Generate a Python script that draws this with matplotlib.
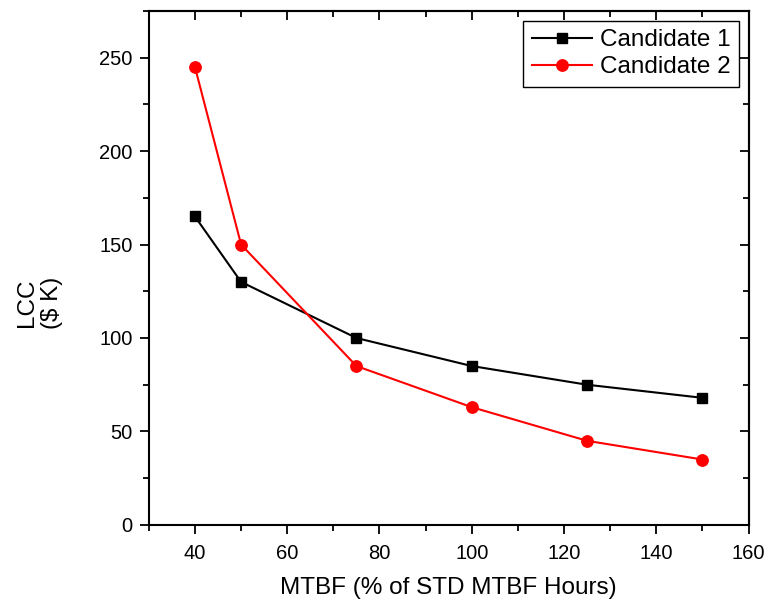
import matplotlib.pyplot as plt
from matplotlib.ticker import MultipleLocator, NullFormatter

# data
mtbf = [40, 50, 75, 100, 125, 150]
lcc_cand1 = [165, 130, 100, 85, 75, 68]
lcc_cand2 = [245, 150, 85, 63, 45, 35]

plt.rcParams['font.family'] = ['Liberation Sans', 'DejaVu Sans']

fig = plt.figure(figsize=(7.67, 6.02), dpi=100)
ax = fig.add_axes([0.194, 0.128, 0.782, 0.854])

ax.plot(mtbf, lcc_cand1, color='black', marker='s', markersize=7.5, linewidth=1.5, label='Candidate 1')
ax.plot(mtbf, lcc_cand2, color='red', marker='o', markersize=8.2, linewidth=1.5, label='Candidate 2')

ax.set_xlim(30, 160)
ax.set_ylim(0, 275)
ax.xaxis.set_major_locator(MultipleLocator(20))
ax.xaxis.set_minor_locator(MultipleLocator(10))
ax.yaxis.set_major_locator(MultipleLocator(50))
ax.yaxis.set_minor_locator(MultipleLocator(25))

ax.tick_params(which='both', direction='out', labelsize=14.5, width=1.3)
ax.tick_params(which='major', length=6.5)
ax.tick_params(which='minor', length=4)
ax.tick_params(axis='x', which='major', pad=7)
ax.tick_params(axis='y', which='major', pad=5)
for s in ax.spines.values():
    s.set_linewidth(1.5)

# top and right spines carry inward ticks without labels
top = ax.secondary_xaxis('top')
right = ax.secondary_yaxis('right')
for sec, maj, mnr in [(top, 20, 10), (right, 50, 25)]:
    axis = sec.xaxis if sec is top else sec.yaxis
    axis.set_major_locator(MultipleLocator(maj))
    axis.set_minor_locator(MultipleLocator(mnr))
    axis.set_major_formatter(NullFormatter())
    sec.tick_params(which='both', direction='in', width=1.3)
    sec.tick_params(which='major', length=6.5)
    sec.tick_params(which='minor', length=4)
    for s in sec.spines.values():
        s.set_linewidth(1.5)

ax.set_xlabel('MTBF (% of STD MTBF Hours)', fontsize=17.5, labelpad=10)
ax.set_ylabel('LCC\n($ K)', fontsize=17.5)
ax.yaxis.set_label_coords(-0.143, 0.432)

leg = ax.legend(loc='upper right', fontsize=17.5, fancybox=False, edgecolor='black',
                handlelength=2.5, borderaxespad=0.4, labelspacing=0.22,
                handletextpad=0.3, borderpad=0.35, framealpha=1)
leg.get_frame().set_linewidth(1.0)

fig.savefig('out.png', dpi=100)
